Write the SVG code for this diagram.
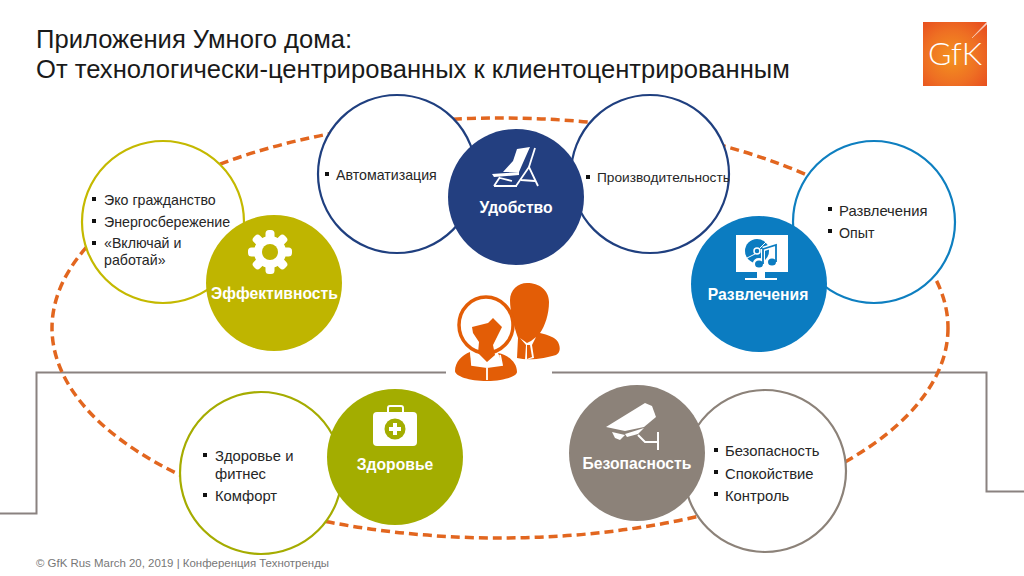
<svg xmlns="http://www.w3.org/2000/svg" width="1024" height="576" viewBox="0 0 1024 576">
<defs>
<radialGradient id="logoGrad" cx="0.45" cy="0.55" r="0.7"><stop offset="0" stop-color="#f4931f"/><stop offset="0.6" stop-color="#ee6f23"/><stop offset="1" stop-color="#e8501f"/></radialGradient>
<rect id="tooth" x="-4.500" y="-22" width="9" height="12" rx="3.500" fill="#fff"/>
</defs>
<style>
text{font-family:"Liberation Sans",Arial,sans-serif}
.title{font-size:25.600px;fill:#1a1a1a}
.item{font-size:14.200px;fill:#262626}
.wide{font-size:14.800px}
.head{font-size:15.700px;font-weight:bold;fill:#fff;text-anchor:middle}
.out{fill:#fff;stroke-width:2.200}
.ic{fill:#fff}
.bul{fill:#111}
</style>
<rect width="1024" height="576" fill="#fff"/>
<g id="connectors" fill="none">
<path d="M0 513.500H36.500V372.500H446M552 372.500H986.500V491.500H1024" stroke="#8a8280" stroke-width="2"/>
<ellipse cx="500" cy="328" rx="448" ry="210" stroke="#e2661f" stroke-width="3.500" stroke-dasharray="9 5"/>
</g>
<text class="title" x="36" y="48">Приложения Умного дома:</text>
<text class="title" x="36" y="78">От технологически-центрированных к клиентоцентрированным</text>
<g id="logo">
<rect x="923" y="22" width="64" height="64" fill="url(#logoGrad)"/>
<path d="M972 38L987 22V24Z" fill="#fff" opacity=".75" stroke="#fff" stroke-width=".5"/>
<text x="955" y="65" font-size="32" fill="#fff" text-anchor="middle" textLength="54" lengthAdjust="spacingAndGlyphs" style="font-family:Lato,'Liberation Sans',sans-serif;font-weight:300">GfK</text>
</g>
<g id="eco-list">
<circle class="out" cx="163" cy="222" r="81" stroke="#c4b900"/>
<rect class="bul" x="92" y="197" width="4" height="4"/><text class="item" x="104" y="205">Эко гражданство</text>
<rect class="bul" x="92" y="219" width="4" height="4"/><text class="item" x="104" y="227">Энергосбережение</text>
<rect class="bul" x="92" y="241" width="4" height="4"/><text class="item" x="104" y="248">«Включай и</text>
<text class="item" x="104" y="265">работай»</text>
</g>
<g id="effect">
<circle cx="274" cy="283" r="68" fill="#bfb500"/>
<g transform="translate(270 252)">
<circle r="16" fill="#fff"/>
<use href="#tooth"/><use href="#tooth" transform="rotate(45)"/><use href="#tooth" transform="rotate(90)"/><use href="#tooth" transform="rotate(135)"/><use href="#tooth" transform="rotate(180)"/><use href="#tooth" transform="rotate(225)"/><use href="#tooth" transform="rotate(270)"/><use href="#tooth" transform="rotate(315)"/>
<circle r="8" fill="#bfb500"/>
</g>
<text class="head" x="274.500" y="299">Эффективность</text>
</g>
<g id="auto-list">
<circle class="out" cx="397" cy="174" r="79" stroke="#1f3f7f"/>
<rect class="bul" x="325" y="172" width="4" height="4"/><text class="item" x="336" y="180">Автоматизация</text>
</g>
<g id="prod-list">
<circle class="out" cx="650" cy="174" r="79" stroke="#1f3f7f"/>
<rect class="bul" x="586" y="175" width="4" height="4"/><text class="item" x="597" y="182" style="font-size:13.700px">Производительность</text>
</g>
<g id="comfort">
<circle cx="516" cy="197" r="68" fill="#233f80"/>
<path class="ic" d="M517 149L530 147L522 165L519 172L503 172L513 161Z"/>
<path class="ic" d="M492 174L519 172V175L494 177Z"/>
<g fill="none" stroke="#fff" stroke-width="1.800">
<path d="M535 148L529 167"/>
<path d="M516 186L529 167L538 186M521 180L535 181"/>
<path d="M494 186L500 177M494 186H517M500 178L512 181"/>
</g>
<text class="head" x="516" y="213">Удобство</text>
</g>
<g id="fun-list">
<circle class="out" cx="874" cy="222" r="81" stroke="#0e7fc0"/>
<rect class="bul" x="828" y="207" width="4" height="4"/><text class="item wide" x="839" y="216">Развлечения</text>
<rect class="bul" x="828" y="229" width="4" height="4"/><text class="item" x="839" y="238">Опыт</text>
</g>
<g id="fun">
<circle cx="759" cy="284" r="68" fill="#0b7cc1"/>
<rect class="ic" x="736" y="235" width="52" height="37"/>
<rect class="ic" x="757" y="272" width="8" height="6"/>
<rect class="ic" x="745" y="278" width="32" height="2"/>
<circle cx="757" cy="251" r="12" fill="#0b7cc1"/>
<path d="M747 258L755 254M760 248L766 242" stroke="#fff" stroke-width="1" fill="none"/>
<circle cx="757" cy="251" r="3" fill="none" stroke="#fff" stroke-width="1.500"/>
<path d="M763 249L776 245V262" fill="none" stroke="#fff" stroke-width="4.500"/>
<path d="M763 249V264" fill="none" stroke="#fff" stroke-width="4"/>
<ellipse cx="759" cy="263" rx="6" ry="5" fill="#fff"/><ellipse cx="772" cy="262" rx="6" ry="5" fill="#fff"/>
<path d="M763 249L776 245V262M763 249V264" fill="none" stroke="#0b7cc1" stroke-width="1.800"/>
<ellipse cx="759" cy="264" rx="4" ry="3.500" fill="#0b7cc1"/><ellipse cx="772" cy="262" rx="4" ry="3.500" fill="#0b7cc1"/>
<text class="head" x="758" y="300">Развлечения</text>
</g>
<g id="health-list">
<circle class="out" cx="261" cy="473" r="81" stroke="#a5ac00"/>
<rect class="bul" x="203" y="453" width="4" height="4"/><text class="item wide" x="215" y="461">Здоровье и</text>
<text class="item wide" x="215" y="479">фитнес</text>
<rect class="bul" x="203" y="493" width="4" height="4"/><text class="item wide" x="215" y="501">Комфорт</text>
</g>
<g id="health">
<circle cx="395" cy="457" r="68" fill="#a3ad00"/>
<path fill="none" stroke="#fff" stroke-width="2" d="M388 412V408Q388 406 390 406H401Q403 406 403 408V412"/>
<rect class="ic" x="373" y="412" width="44" height="34" rx="4"/>
<circle cx="395" cy="429" r="10.500" fill="#a3ad00"/>
<path class="ic" d="M393 423H397V427H401V431H397V435H393V431H389V427H393Z"/>
<text class="head" x="395" y="470">Здоровье</text>
</g>
<g id="safe-list">
<circle class="out" cx="765" cy="471" r="81" stroke="#8c8279"/>
<rect class="bul" x="714" y="448" width="4" height="4"/><text class="item wide" x="725" y="456">Безопасность</text>
<rect class="bul" x="714" y="470" width="4" height="4"/><text class="item wide" x="725" y="479">Спокойствие</text>
<rect class="bul" x="714" y="492" width="4" height="4"/><text class="item wide" x="725" y="501">Контроль</text>
</g>
<g id="safe">
<circle cx="637" cy="453" r="68" fill="#8c8279"/>
<path class="ic" d="M606 427L645 403L652 406L656 417L644 427L625 431Z"/>
<path class="ic" d="M612 432L625 435L620 440L615 438Z"/>
<path class="ic" d="M625 434L644 428L638 434L627 437Z"/>
<path d="M638 435L645 442H658M658 432V450" fill="none" stroke="#fff" stroke-width="2"/>
<text class="head" x="637" y="469">Безопасность</text>
</g>
<g id="people" fill="#e35d06">
<path d="M510 300C510 290 518 283 527 283C539 283 549 290 549 302C549 314 545 326 540 333C548 335 555 337 558 342C561 348 560 353 556 355C546 358 530 361 517 358L518 338C514 326 510 312 510 300Z"/>
<path d="M520 338L527 343L531 341L536 337L532 345L534 358L525 360L526 345Z" fill="#fff"/>
<path d="M527 345H530L532 357L527 359Z"/>
<ellipse cx="486" cy="325" rx="27" ry="28" fill="#fff" stroke="#e35d06" stroke-width="3.500"/>
<path d="M472 327L480 325L488 323L493 318L502 327L498 335L493 345L495 355L487 362L478 353L479 342L473 333Z"/>
<path d="M455 371C455 362 462 355 470 352L472 365L487 367L502 365L500 358L498 353C508 355 517 362 517 372C517 376 505 381 487 381C469 381 455 376 455 371Z"/>
<path d="M471 352L472 365L487 367L502 365L500 355M487 367V380" fill="none" stroke="#fff" stroke-width="1.800"/>
</g>
<text x="36" y="567" font-size="11.450" fill="#777">© GfK Rus March 20, 2019 | Конференция Технотренды</text>
</svg>
